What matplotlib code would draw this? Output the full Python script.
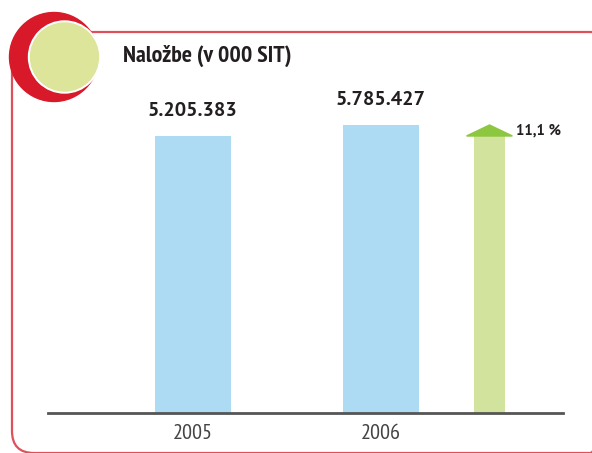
import matplotlib
matplotlib.use("Agg")
import matplotlib.pyplot as plt
from matplotlib.patches import Circle, FancyBboxPatch, Polygon

# data
years = ["2005", "2006"]
values = [5205383, 5785427]
value_labels = ["5.205.383", "5.785.427"]
growth_label = "11,1 %"
title = "Naložbe (v 000 SIT)"

narrow = ["PT Sans Narrow", "Roboto Condensed", "DejaVu Sans"]
normal = ["PT Sans", "Roboto", "DejaVu Sans"]

W, H = 592, 453
fig = plt.figure(figsize=(W / 100, H / 100), dpi=100)

# decoration layer in pixel coords
deco = fig.add_axes([0, 0, 1, 1], zorder=0)
deco.set_xlim(0, W)
deco.set_ylim(H, 0)
deco.axis("off")
deco.add_patch(FancyBboxPatch((12, 32), 600, 421, boxstyle="round,pad=0,rounding_size=22",
                              fill=False, ec="#e0505a", lw=1.6))
deco.add_patch(Circle((54, 57), 44.5, color="#d8192a"))
deco.add_patch(Circle((64.5, 57), 36, color="white"))
deco.add_patch(Circle((64.5, 57), 34, color="#dde59b"))
deco.text(123, 56, title, family=narrow, fontweight="bold", fontsize=17.2,
          color="#231f20", va="center", ha="left")

# chart
ax = fig.add_axes([48 / W, 40 / H, (563 - 48) / W, 413 / H], zorder=1)
ax.patch.set_alpha(0)
units_per_px = (values[1] - values[0]) / 11.0
base = values[0] - 277 * units_per_px
top = base + 413 * units_per_px
x = [0, 1]
ax.bar(x, [v - base for v in values], bottom=base, width=0.404, color="#acdbf3")
for xi, v, lab in zip(x, values, value_labels):
    ax.text(xi, v + 16 * units_per_px, lab, ha="center", va="bottom",
            family=normal, fontweight="bold", fontsize=14.5, color="#231f20")

gx = 1.577
ax.bar([gx], [values[0] - base], bottom=base, width=0.165, color="#d1e39c")
ax.add_patch(Polygon([[gx - 0.122, values[0]], [gx + 0.122, values[0]], [gx, values[1]]],
                     closed=True, color="#8dc63f"))
ax.text(1.72, values[0] + 5 * units_per_px, growth_label, ha="left", va="center",
        family=normal, fontweight="bold", fontsize=10.5, color="#231f20")

ax.set_xlim(-0.771, 1.968)
ax.set_ylim(base, top)
for s in ["top", "right", "left"]:
    ax.spines[s].set_visible(False)
ax.spines["bottom"].set_color("#555555")
ax.spines["bottom"].set_linewidth(2)
ax.set_yticks([])
ax.set_xticks(x)
ax.set_xticklabels(years, family=narrow, fontsize=16, color="#444444")
ax.tick_params(axis="x", length=0, pad=8)

fig.savefig("out.png", dpi=100)
